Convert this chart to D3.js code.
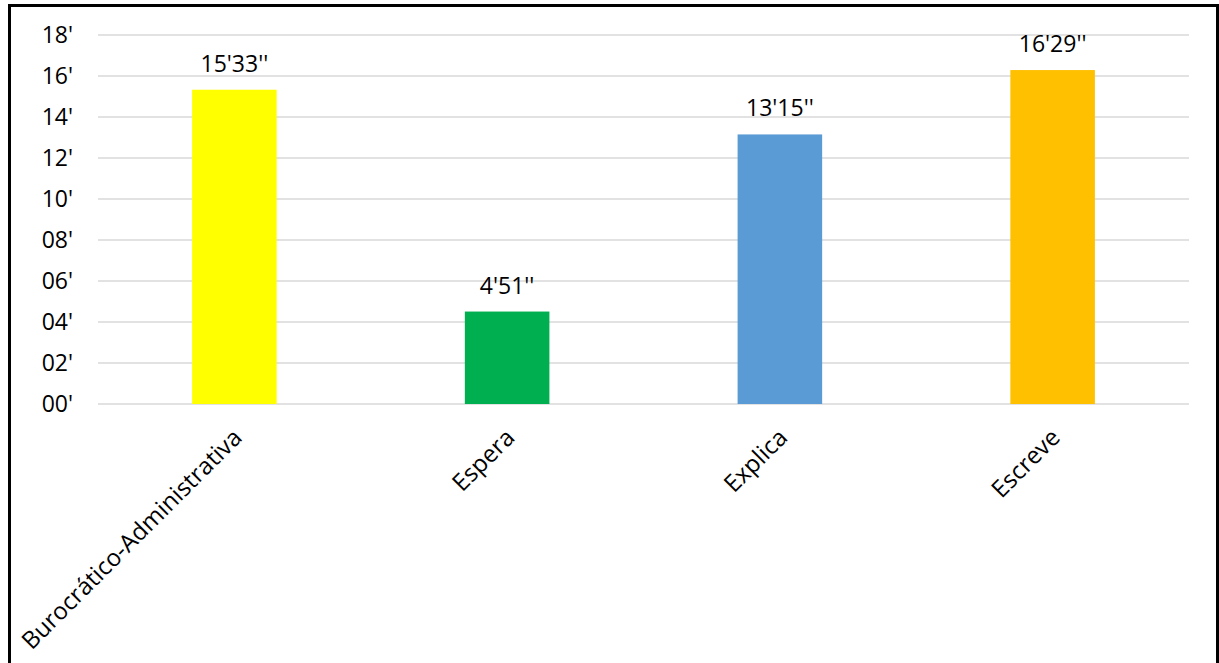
<!DOCTYPE html>
<html><head><meta charset="utf-8">
<script src="https://cdn.jsdelivr.net/npm/d3@7"></script>
<style>html,body{margin:0;padding:0;background:#fff;overflow:hidden}</style>
</head><body><svg id="c" width="1219" height="663"></svg>
<script>
const categories = ["Burocrático-Administrativa", "Espera", "Explica", "Escreve"];
const values = [15.33, 4.51, 13.15, 16.29];
const valueLabels = ["15'33''", "4'51''", "13'15''", "16'29''"];
const colors = ["#FFFF00", "#00B050", "#5B9BD5", "#FFC000"];
const yTicks = [0, 2, 4, 6, 8, 10, 12, 14, 16, 18];
const yTickLabels = ["00'", "02'", "04'", "06'", "08'", "10'", "12'", "14'", "16'", "18'"];

(function () {
const svg = d3.select("#c");
const font = "'Open Sans', sans-serif";
const fs = 23;
const pL = 98, pR = 1189, pT = 35, pB = 404;

svg.append("rect").attr("x", 9.5).attr("y", 5.5).attr("width", 1208).attr("height", 700)
  .attr("fill", "none").attr("stroke", "#000").attr("stroke-width", 3);

const x = d3.scaleBand().domain(categories).range([pL, pR]).paddingInner(0.69).paddingOuter(0.345);
const y = d3.scaleLinear().domain([0, 18]).range([pB, pT]);

// gridlines
svg.append("g").selectAll("line").data(yTicks).join("line")
  .attr("x1", pL).attr("x2", pR)
  .attr("y1", d => y(d)).attr("y2", d => y(d))
  .attr("stroke", "#d9d9d9").attr("stroke-width", 1.5);

// y axis labels
const yAxis = d3.axisLeft(y).tickValues(yTicks).tickFormat((d, i) => yTickLabels[i]).tickSize(0).tickPadding(0);
const yg = svg.append("g").attr("transform", `translate(73,0)`).call(yAxis);
yg.select(".domain").remove();
yg.selectAll("text").attr("font-family", font).attr("font-size", fs).attr("fill", "#000");

// bars
svg.append("g").selectAll("rect").data(categories).join("rect")
  .attr("x", d => x(d)).attr("width", x.bandwidth())
  .attr("y", (d, i) => y(values[i])).attr("height", (d, i) => y(0) - y(values[i]))
  .attr("fill", (d, i) => colors[i]);

// value labels
svg.append("g").selectAll("text").data(categories).join("text")
  .attr("x", d => x(d) + x.bandwidth() / 2)
  .attr("y", (d, i) => y(values[i]) - 18)
  .attr("text-anchor", "middle")
  .attr("font-family", font).attr("font-size", fs).attr("fill", "#000")
  .text((d, i) => valueLabels[i]);

// x axis labels
const xAxis = d3.axisBottom(x).tickSize(0).tickPadding(0);
const xg = svg.append("g").attr("transform", `translate(0,${pB})`).call(xAxis);
xg.select(".domain").remove();
xg.selectAll("text")
  .attr("font-family", font).attr("font-size", 24).attr("fill", "#000")
  .attr("text-anchor", "end")
  .attr("dy", null).attr("y", 0)
  .attr("transform", "translate(9,35) rotate(-45)");
})();
</script></body></html>
